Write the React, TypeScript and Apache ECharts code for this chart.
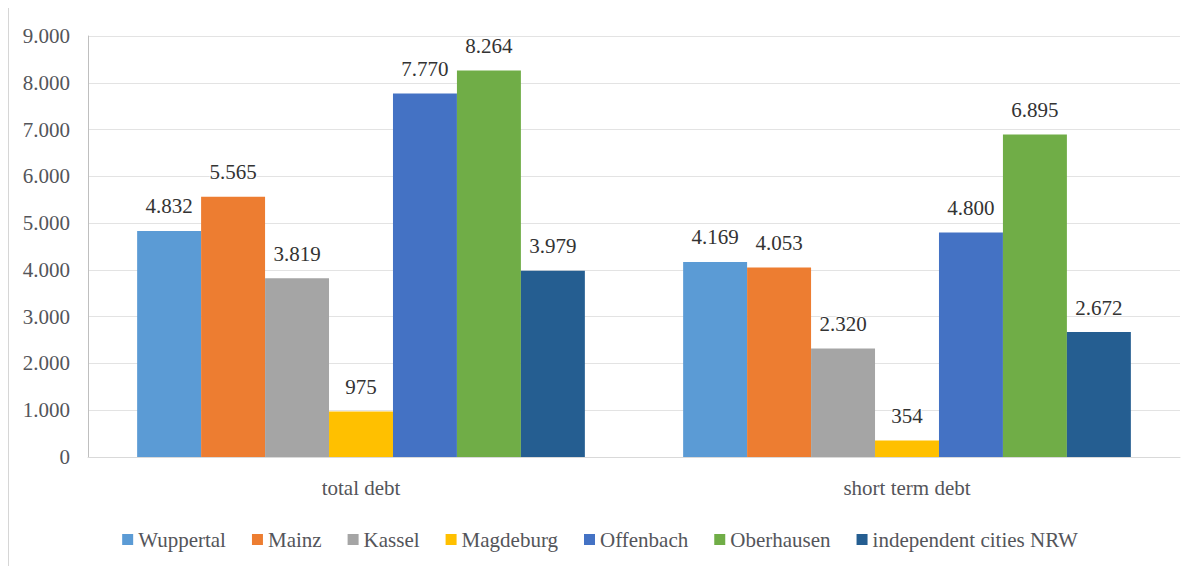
import React, { useEffect, useRef } from "react";
import * as echarts from "echarts";

const categories = ["total debt", "short term debt"];
const seriesNames = [
  "Wuppertal",
  "Mainz",
  "Kassel",
  "Magdeburg",
  "Offenbach",
  "Oberhausen",
  "independent cities NRW",
];
const wuppertal = [4832, 4169];
const mainz = [5565, 4053];
const kassel = [3819, 2320];
const magdeburg = [975, 354];
const offenbach = [7770, 4800];
const oberhausen = [8264, 6895];
const nrw = [3979, 2672];
const colors = ["#5B9BD5", "#ED7D31", "#A5A5A5", "#FFC000", "#4472C4", "#70AD47", "#255E91"];

const fmt = (v: number) => {
  const s = Math.round(v).toString();
  return s.replace(/\B(?=(\d{3})+(?!\d))/g, ".");
};

export default function App() {
  const ref = useRef<HTMLDivElement>(null);
  useEffect(() => {
    if (!ref.current) return;
    const chart = echarts.init(ref.current, undefined, { renderer: "svg" });
    const values = [wuppertal, mainz, kassel, magdeburg, offenbach, oberhausen, nrw];
    chart.setOption({
      animation: false,
      grid: { left: 88, right: 20, top: 36, bottom: 117 },
      legend: {
        bottom: 19,
        left: "center",
        icon: "rect",
        itemWidth: 11,
        itemHeight: 11,
        itemGap: 26,
        textStyle: { fontFamily: "Liberation Serif", fontSize: 21 },
      },
      xAxis: {
        type: "category",
        data: categories,
        axisLine: { lineStyle: { color: "#D9D9D9" } },
        axisTick: { show: false },
        axisLabel: { fontFamily: "Liberation Serif", fontSize: 21, margin: 20 },
      },
      yAxis: {
        type: "value",
        min: 0,
        max: 9000,
        interval: 1000,
        axisLine: { show: true, lineStyle: { color: "#BFBFBF" } },
        axisTick: { show: false },
        splitLine: { lineStyle: { color: "#E3E3E3" } },
        axisLabel: {
          fontFamily: "Liberation Serif",
          fontSize: 21,
          margin: 18,
          formatter: (v: number) => fmt(v),
        },
      },
      series: seriesNames.map((name, i) => ({
        name,
        type: "bar",
        data: values[i],
        itemStyle: { color: colors[i] },
        barGap: "0%",
        barCategoryGap: "18%",
        label: {
          show: true,
          position: "top",
          distance: 14,
          fontFamily: "Liberation Serif",
          fontSize: 21,
          formatter: (p: any) => fmt(p.value),
        },
      })),
    });
    return () => chart.dispose();
  }, []);
  return (
    <div style={{ position: "relative", width: 1200, height: 574, margin: -8 }}>
      <div
        style={{
          position: "absolute",
          left: 8,
          top: 7,
          width: 1200,
          height: 564,
          border: "1px solid #D6D6D6",
          boxSizing: "border-box",
        }}
      />
      <div ref={ref} style={{ position: "absolute", left: 0, top: 0, width: 1200, height: 574 }} />
    </div>
  );
}
